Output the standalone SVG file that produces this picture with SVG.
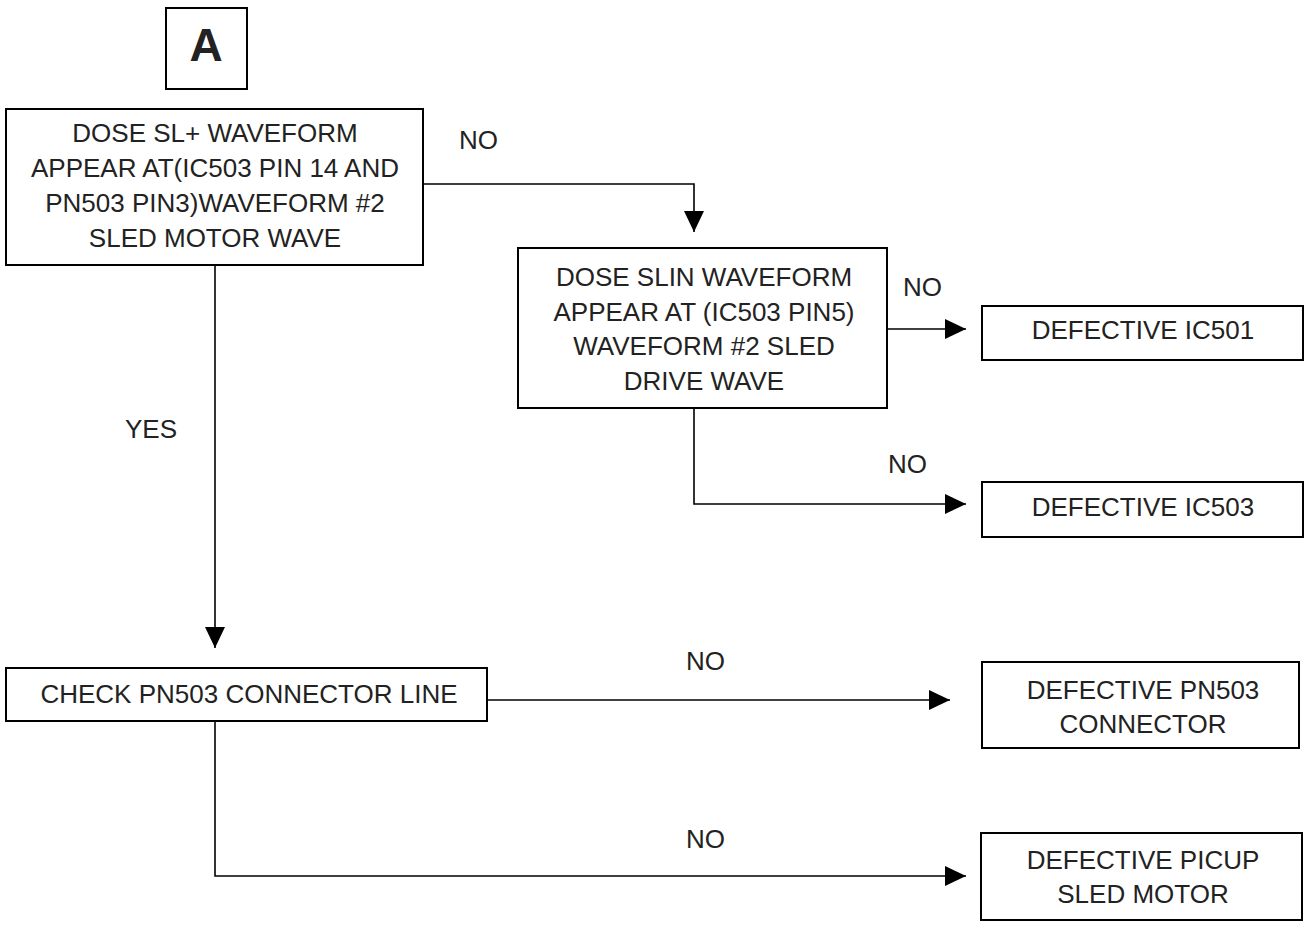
<svg xmlns="http://www.w3.org/2000/svg" width="1307" height="925" viewBox="0 0 1307 925">
<defs>
<marker id="arr" markerUnits="userSpaceOnUse" markerWidth="22" markerHeight="20" refX="21" refY="10" orient="auto">
<path d="M0,0 L21,10 L0,20 Z" fill="#000"/>
</marker>
<style>
.box{fill:#fff;stroke:#000;stroke-width:2}
.t{font-family:"Liberation Sans",Arial,sans-serif;font-size:26px;fill:#222;text-anchor:middle}
.l{font-family:"Liberation Sans",Arial,sans-serif;font-size:26px;fill:#222}
.c{fill:none;stroke:#000;stroke-width:1.6}
</style>
</defs>
<rect width="1307" height="925" fill="#fff"/>
<g id="connectors">
<polyline class="c" points="423,184 694,184 694,232" marker-end="url(#arr)"/>
<line class="c" x1="887" y1="329" x2="966" y2="329" marker-end="url(#arr)"/>
<polyline class="c" points="694,408 694,504 966,504" marker-end="url(#arr)"/>
<line class="c" x1="215" y1="265" x2="215" y2="648" marker-end="url(#arr)"/>
<line class="c" x1="487" y1="700" x2="950" y2="700" marker-end="url(#arr)"/>
<polyline class="c" points="215,721 215,876 966,876" marker-end="url(#arr)"/>
<text class="l" x="459" y="149">NO</text>
<text class="l" x="903" y="296">NO</text>
<text class="l" x="888" y="473">NO</text>
<text class="l" x="125" y="438">YES</text>
<text class="l" x="686" y="670">NO</text>
<text class="l" x="686" y="848">NO</text>
</g>
<g id="nodeA">
<rect class="box" x="166" y="8" width="81" height="81"/>
<text x="206" y="61" font-family="'Liberation Sans',Arial,sans-serif" font-size="46" font-weight="bold" text-anchor="middle" fill="#222">A</text>
</g>
<g id="node1">
<rect class="box" x="6" y="109" width="417" height="156"/>
<text class="t" x="215" y="142">DOSE SL+ WAVEFORM</text>
<text class="t" x="215" y="177">APPEAR AT(IC503 PIN 14 AND</text>
<text class="t" x="215" y="212">PN503 PIN3)WAVEFORM #2</text>
<text class="t" x="215" y="247">SLED MOTOR WAVE</text>
</g>
<g id="node2">
<rect class="box" x="518" y="248" width="369" height="160"/>
<text class="t" x="704" y="286">DOSE SLIN WAVEFORM</text>
<text class="t" x="704" y="321">APPEAR AT (IC503 PIN5)</text>
<text class="t" x="704" y="355">WAVEFORM #2 SLED</text>
<text class="t" x="704" y="390">DRIVE WAVE</text>
</g>
<g id="node3">
<rect class="box" x="982" y="306" width="321" height="54"/>
<text class="t" x="1143" y="339">DEFECTIVE IC501</text>
</g>
<g id="node4">
<rect class="box" x="982" y="482" width="321" height="55"/>
<text class="t" x="1143" y="516">DEFECTIVE IC503</text>
</g>
<g id="node5">
<rect class="box" x="6" y="668" width="481" height="53"/>
<text class="t" x="249" y="703">CHECK PN503 CONNECTOR LINE</text>
</g>
<g id="node6">
<rect class="box" x="982" y="662" width="317" height="86"/>
<text class="t" x="1143" y="699">DEFECTIVE PN503</text>
<text class="t" x="1143" y="733">CONNECTOR</text>
</g>
<g id="node7">
<rect class="box" x="981" y="833" width="321" height="87"/>
<text class="t" x="1143" y="869">DEFECTIVE PICUP</text>
<text class="t" x="1143" y="903">SLED MOTOR</text>
</g>
</svg>
